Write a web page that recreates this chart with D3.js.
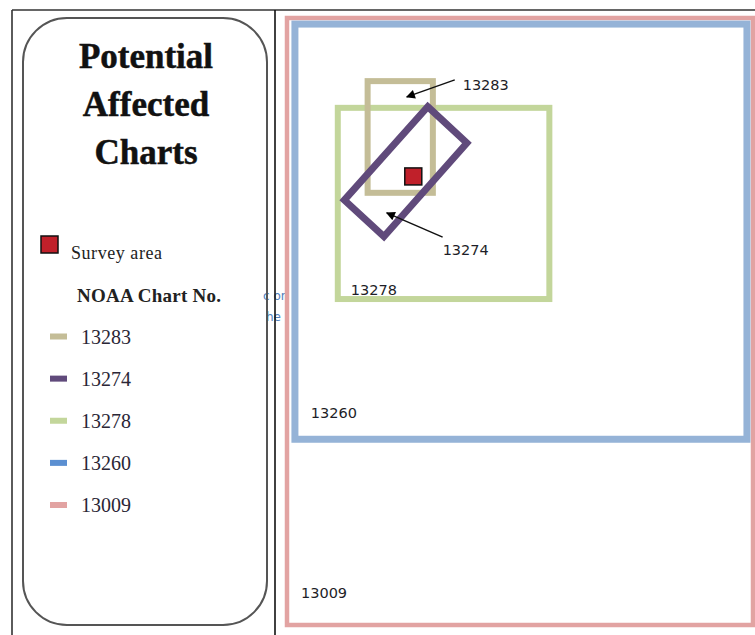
<!DOCTYPE html>
<html>
<head>
<meta charset="utf-8">
<script src="https://cdn.jsdelivr.net/npm/d3@7"></script>
<style>
  body { margin: 0; background: #fff; }
  svg { display: block; }
</style>
</head>
<body>
<div id="chart"></div>
<script>
// chart coverage, in map units (0-100 across the outer 13009 chart)
var charts = ["13283", "13274", "13278", "13260", "13009"];
var chartColors = ["#c4bd97", "#604a7b", "#c3d69b", "#95b3d7", "#e2a3a2"];
var legendColors = ["#c4bd97", "#604a7b", "#c3d69b", "#5b8fd1", "#e2a3a2"];

// axis-aligned charts: [x0, y0, x1, y1]
var rectCharts = ["13009", "13260", "13278", "13283"];
var rectExtents = [
  [0, 0, 100, 100],
  [1.7, 1.0, 98.7, 69.4],
  [10.9, 14.8, 56.3, 46.3],
  [17.3, 10.4, 31.3, 28.8]
];

// the tilted chart 13274, corner points
var tiltedCorners = [[30.2, 14.6], [38.6, 20.6], [20.8, 36.0], [12.3, 30.0]];

// survey area centre
var survey = [27.1, 26.1];

// chart number labels on the map
var mapLabels = ["13283", "13274", "13278", "13260", "13009"];
var mapLabelPos = [[37.7, 11.9], [33.4, 39.0], [13.7, 45.6], [5.1, 65.9], [3.0, 95.6]];

// arrows: [from, to]
var arrows = [
  [[36.0, 10.2], [25.7, 13.0]],
  [[33.4, 36.1], [21.4, 32.1]]
];

var svgWidth = 755;
var svgHeight = 635;

var svg = d3.select("#chart")
  .append("svg")
  .attr("width", svgWidth)
  .attr("height", svgHeight);

var defs = svg.append("defs");
defs.append("marker")
  .attr("id", "arrow")
  .attr("viewBox", "0 0 10 10")
  .attr("refX", 9)
  .attr("refY", 5)
  .attr("markerWidth", 12)
  .attr("markerHeight", 9)
  .attr("markerUnits", "userSpaceOnUse")
  .attr("orient", "auto")
  .append("path")
  .attr("d", "M0,0 L10,5 L0,10 Z")
  .attr("fill", "#000");

// map scales
var x = d3.scaleLinear().domain([0, 100]).range([287, 753]);
var y = d3.scaleLinear().domain([0, 100]).range([18, 625]);

var colorOf = d3.scaleOrdinal().domain(charts).range(chartColors);
var widthOf = d3.scaleOrdinal().domain(charts).range([6, 7, 6, 7, 4.5]);

// stray text peeking from behind
var stray = svg.append("g")
  .attr("font-family", "DejaVu Sans, sans-serif")
  .attr("font-size", 12)
  .attr("fill", "#4f81bd");
stray.append("text").attr("x", 263).attr("y", 300).text("c or");
stray.append("text").attr("x", 266).attr("y", 321).text("he");

// frame lines
svg.append("line").attr("x1", 12).attr("x2", svgWidth).attr("y1", 10).attr("y2", 10)
  .attr("stroke", "#333").attr("stroke-width", 1.6);
svg.append("line").attr("x1", 12).attr("x2", 12).attr("y1", 10).attr("y2", svgHeight)
  .attr("stroke", "#333").attr("stroke-width", 1.6);
svg.append("line").attr("x1", 275).attr("x2", 275).attr("y1", 10).attr("y2", svgHeight)
  .attr("stroke", "#111").attr("stroke-width", 1.6);

// legend box
svg.append("rect")
  .attr("x", 23).attr("y", 18)
  .attr("width", 244).attr("height", 607)
  .attr("rx", 44).attr("ry", 44)
  .attr("fill", "none")
  .attr("stroke", "#555")
  .attr("stroke-width", 2);

var title = svg.append("text")
  .attr("font-family", "Liberation Serif, Times New Roman, serif")
  .attr("font-weight", "bold")
  .attr("font-size", 35)
  .attr("fill", "#111")
  .attr("stroke", "#111")
  .attr("stroke-width", 0.5)
  .attr("text-anchor", "middle");
["Potential", "Affected", "Charts"].forEach(function(t, i) {
  title.append("tspan").attr("x", 146).attr("y", 68 + i * 48).text(t);
});

// survey area legend entry
svg.append("rect")
  .attr("x", 41).attr("y", 236)
  .attr("width", 17).attr("height", 17)
  .attr("fill", "#c0202a")
  .attr("stroke", "#111")
  .attr("stroke-width", 1.5);
svg.append("text")
  .attr("x", 71).attr("y", 259)
  .attr("font-family", "Liberation Serif, Times New Roman, serif")
  .attr("font-size", 18)
  .attr("textLength", 91)
  .attr("fill", "#222")
  .text("Survey area");

svg.append("text")
  .attr("x", 77).attr("y", 302)
  .attr("font-family", "Liberation Serif, Times New Roman, serif")
  .attr("font-weight", "bold")
  .attr("font-size", 19)
  .attr("textLength", 144)
  .attr("fill", "#222")
  .text("NOAA Chart No.");

// chart legend
var legendY = d3.scalePoint().domain(charts).range([336.5, 505]);
var legendItems = svg.append("g").selectAll("g")
  .data(charts)
  .enter()
  .append("g")
  .attr("transform", d => `translate(0, ${legendY(d)})`);

legendItems.append("rect")
  .attr("x", 50).attr("y", -3)
  .attr("width", 17).attr("height", 6)
  .attr("fill", (d, i) => legendColors[i]);

legendItems.append("text")
  .attr("x", 81).attr("y", 7)
  .attr("font-family", "Liberation Serif, Times New Roman, serif")
  .attr("font-size", 20)
  .attr("fill", "#2a2636")
  .text(d => d);

// map: axis-aligned charts
var mapGroup = svg.append("g");
mapGroup.selectAll("rect.chart")
  .data(rectCharts)
  .enter()
  .append("rect")
  .attr("class", "chart")
  .attr("x", (d, i) => x(rectExtents[i][0]))
  .attr("y", (d, i) => y(rectExtents[i][1]))
  .attr("width", (d, i) => x(rectExtents[i][2]) - x(rectExtents[i][0]))
  .attr("height", (d, i) => y(rectExtents[i][3]) - y(rectExtents[i][1]))
  .attr("fill", "none")
  .attr("stroke", d => colorOf(d))
  .attr("stroke-width", d => widthOf(d));

// tilted chart
var line = d3.line().x(d => x(d[0])).y(d => y(d[1])).curve(d3.curveLinearClosed);
mapGroup.append("path")
  .attr("d", line(tiltedCorners))
  .attr("fill", "none")
  .attr("stroke", colorOf("13274"))
  .attr("stroke-width", widthOf("13274"))
  .attr("stroke-linejoin", "miter");

// survey area
mapGroup.append("rect")
  .attr("x", x(survey[0]) - 8.5)
  .attr("y", y(survey[1]) - 8.5)
  .attr("width", 17).attr("height", 17)
  .attr("fill", "#c0202a")
  .attr("stroke", "#111")
  .attr("stroke-width", 1.5);

// arrows
mapGroup.selectAll("line.arrow")
  .data(arrows)
  .enter()
  .append("line")
  .attr("class", "arrow")
  .attr("x1", d => x(d[0][0]))
  .attr("y1", d => y(d[0][1]))
  .attr("x2", d => x(d[1][0]))
  .attr("y2", d => y(d[1][1]))
  .attr("stroke", "#111")
  .attr("stroke-width", 1.5)
  .attr("marker-end", "url(#arrow)");

// map labels
mapGroup.selectAll("text.label")
  .data(mapLabels)
  .enter()
  .append("text")
  .attr("class", "label")
  .attr("x", (d, i) => x(mapLabelPos[i][0]))
  .attr("y", (d, i) => y(mapLabelPos[i][1]))
  .attr("font-family", "DejaVu Sans, Verdana, sans-serif")
  .attr("font-size", 14.5)
  .attr("fill", "#1e1e28")
  .text(d => d);
</script>
</body>
</html>
